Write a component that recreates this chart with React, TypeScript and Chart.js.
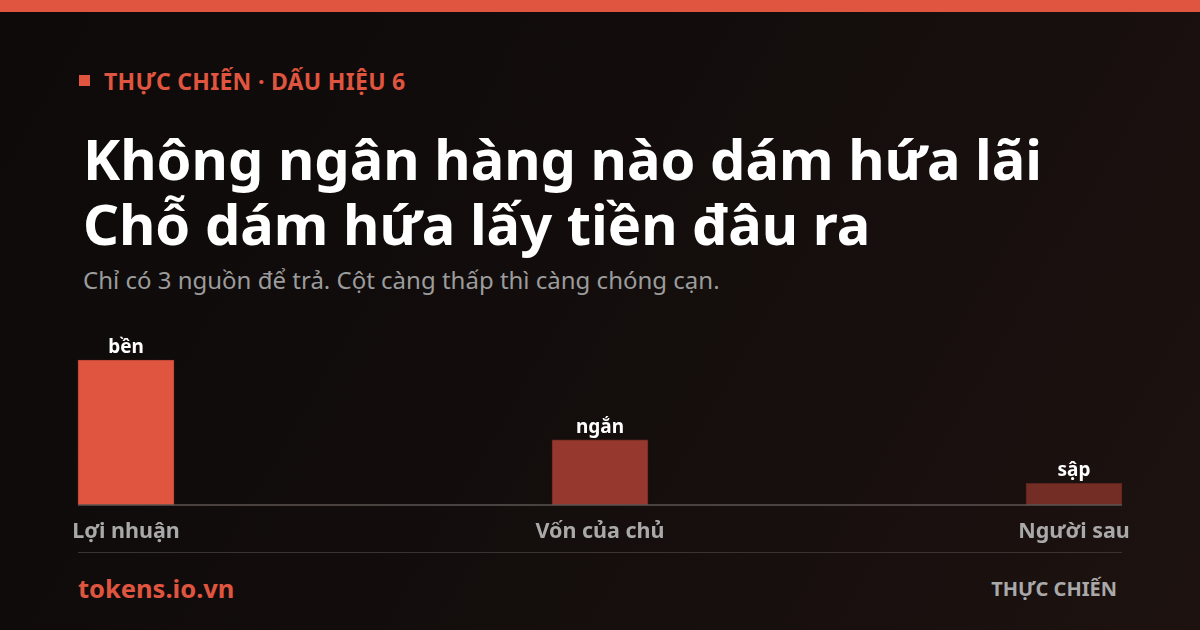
import { useEffect, useRef } from "react"
import { Chart, registerables } from "chart.js"

Chart.register(...registerables)

const categories = ["Lợi nhuận", "Vốn của chủ", "Người sau"]
const values = [100, 45, 15]
const barNotes = ["bền", "ngắn", "sập"]
const barColors = ["#e0553f", "#96382d", "#742d25"]
const barBorders = ["#b94535", "#6f2a22", "#5a231d"]

const FONT = "'Noto Sans', 'Open Sans', sans-serif"

// chữ trên đầu cột + đường nền
const extrasPlugin = {
  id: "extras",
  afterDatasetsDraw(chart: any) {
    const { ctx } = chart
    const meta = chart.getDatasetMeta(0)
    const yScale = chart.scales.y
    const base = yScale.getPixelForValue(0)
    const first = meta.data[0]
    const last = meta.data[meta.data.length - 1]
    ctx.save()
    ctx.strokeStyle = "#5c5452"
    ctx.lineWidth = 1.5
    ctx.beginPath()
    ctx.moveTo(first.x - first.width / 2, base)
    ctx.lineTo(last.x + last.width / 2, base)
    ctx.stroke()

    ctx.fillStyle = "#ffffff"
    ctx.font = `bold 19px ${FONT}`
    ctx.textAlign = "center"
    ctx.textBaseline = "alphabetic"
    meta.data.forEach((bar: any, i: number) => {
      ctx.fillText(barNotes[i], bar.x, bar.y - 7)
    })
    ctx.restore()
  },
}

function SourceChart() {
  const chartRef = useRef<HTMLCanvasElement>(null)
  const chartInstance = useRef<Chart | null>(null)

  useEffect(() => {
    if (!chartRef.current) return
    if (chartInstance.current) chartInstance.current.destroy()
    const ctx = chartRef.current.getContext("2d")
    if (!ctx) return

    chartInstance.current = new Chart(ctx, {
      type: "bar",
      data: {
        labels: categories,
        datasets: [
          {
            data: values,
            backgroundColor: barColors,
            borderColor: barBorders,
            borderWidth: 1,
            barThickness: 96,
            clip: false as any,
          },
        ],
      },
      options: {
        animation: false,
        responsive: false,
        maintainAspectRatio: false,
        layout: { padding: { left: 126, right: 126, top: 60, bottom: 0 } },
        plugins: {
          legend: { display: false },
          tooltip: { enabled: false },
        },
        scales: {
          x: {
            offset: false,
            grid: { display: false, drawTicks: false },
            border: { display: false },
            ticks: {
              color: "#a9a9a9",
              padding: 14,
              font: { family: FONT, size: 21.5, weight: "bold" },
              maxRotation: 0,
              autoSkip: false,
            },
            afterFit: (scale: any) => {
              scale.height = 45
            },
          },
          y: {
            display: false,
            min: 0,
            max: 100,
          },
        },
      },
      plugins: [extrasPlugin],
    })

    return () => {
      if (chartInstance.current) {
        chartInstance.current.destroy()
        chartInstance.current = null
      }
    }
  }, [])

  return (
    <canvas
      ref={chartRef}
      width={1200}
      height={250}
      style={{ position: "absolute", left: 0, top: 300, width: 1200, height: 250 }}
    />
  )
}

export default function App() {
  return (
    <div
      style={{
        position: "absolute",
        left: 0,
        top: 0,
        width: 1200,
        height: 630,
        overflow: "hidden",
        fontFamily: FONT,
        background: "linear-gradient(120deg, #0d0a09 0%, #120d0c 45%, #1d1210 100%)",
      }}
    >
      <div style={{ position: "absolute", left: 0, top: 0, width: 1200, height: 12, background: "#e0553f" }} />

      <div style={{ position: "absolute", left: 79, top: 75, width: 11, height: 11, background: "#e0553f" }} />
      <div
        style={{
          position: "absolute",
          left: 104,
          top: 65,
          fontSize: 23,
          fontWeight: 700,
          color: "#e0553f",
          letterSpacing: 0.3,
          whiteSpace: "nowrap",
        }}
      >
        THỰC CHIẾN · DẤU HIỆU 6
      </div>

      <div
        style={{
          position: "absolute",
          left: 83,
          top: 126,
          fontSize: 56,
          fontWeight: 700,
          lineHeight: "65px",
          color: "#ffffff",
          whiteSpace: "nowrap",
        }}
      >
        <div>Không ngân hàng nào dám hứa lãi</div>
        <div>Chỗ dám hứa lấy tiền đâu ra</div>
      </div>

      <div
        style={{
          position: "absolute",
          left: 83,
          top: 263,
          fontSize: 24,
          color: "#9c9c9c",
          whiteSpace: "nowrap",
        }}
      >
        Chỉ có 3 nguồn để trả. Cột càng thấp thì càng chóng cạn.
      </div>

      <SourceChart />

      <div style={{ position: "absolute", left: 78, top: 552, width: 1044, height: 1, background: "#3b3331" }} />

      <div
        style={{
          position: "absolute",
          left: 78,
          top: 571,
          fontSize: 25.5,
          fontWeight: 700,
          color: "#e0553f",
        }}
      >
        tokens.io.vn
      </div>
      <div
        style={{
          position: "absolute",
          right: 83,
          top: 575,
          fontSize: 20,
          fontWeight: 700,
          color: "#a9a9a9",
        }}
      >
        THỰC CHIẾN
      </div>
    </div>
  )
}
